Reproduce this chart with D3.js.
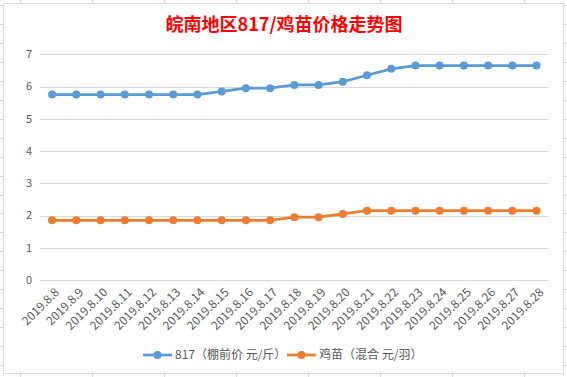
<!DOCTYPE html>
<html>
<head>
<meta charset="utf-8">
<script src="https://cdn.jsdelivr.net/npm/d3@7"></script>
<style>
  body { margin: 0; background: #fff; }
  svg { display: block; }
</style>
</head>
<body>
<div id="chart"></div>
<script>
// data
const dates = ["2019.8.8", "2019.8.9", "2019.8.10", "2019.8.11", "2019.8.12", "2019.8.13", "2019.8.14",
    "2019.8.15", "2019.8.16", "2019.8.17", "2019.8.18", "2019.8.19", "2019.8.20", "2019.8.21",
    "2019.8.22", "2019.8.23", "2019.8.24", "2019.8.25", "2019.8.26", "2019.8.27", "2019.8.28"];
const price817 = [5.75, 5.75, 5.75, 5.75, 5.75, 5.75, 5.75, 5.85, 5.95, 5.95, 6.05, 6.05, 6.15, 6.35,
    6.55, 6.65, 6.65, 6.65, 6.65, 6.65, 6.65];
const chickPrice = [1.85, 1.85, 1.85, 1.85, 1.85, 1.85, 1.85, 1.85, 1.85, 1.85, 1.95, 1.95, 2.05, 2.15,
    2.15, 2.15, 2.15, 2.15, 2.15, 2.15, 2.15];
const yTicks = [0, 1, 2, 3, 4, 5, 6, 7];
const seriesNames = ["817（棚前价 元/斤）", "鸡苗（混合 元/羽）"];
const colors = ["#5b9bd5", "#ed7d31"];

const width = 567, height = 377;
const font = "'Noto Sans CJK SC', 'Noto Sans', sans-serif";

const svg = d3.select("#chart").append("svg")
    .attr("width", width)
    .attr("height", height);

// spreadsheet grid behind the chart
const sheet = svg.append("g").attr("stroke", "#d4d4d4").attr("stroke-width", 1);
d3.range(0, 8).forEach(k => {
    const x = Math.round(20 + 71.95 * k) + 0.5;
    sheet.append("line").attr("x1", x).attr("x2", x).attr("y1", 0).attr("y2", height);
});
d3.range(0, 20).forEach(k => {
    const y = Math.round(5 + 18.95 * k) + 0.5;
    sheet.append("line").attr("x1", 0).attr("x2", width).attr("y1", y).attr("y2", y);
});

// chart box
svg.append("rect")
    .attr("x", 3.5).attr("y", 3.5)
    .attr("width", 560).attr("height", 370)
    .attr("fill", "#fff")
    .attr("stroke", "#d9d9d9");

svg.append("text")
    .attr("x", 284).attr("y", 31)
    .attr("text-anchor", "middle")
    .attr("fill", "#ff0000")
    .attr("font-family", font)
    .attr("font-weight", "bold")
    .attr("font-size", 18)
    .text("皖南地区817/鸡苗价格走势图");

const xScale = d3.scalePoint().domain(dates).range([40, 548.7]).padding(0.5);
const yScale = d3.scaleLinear().domain([0, 7]).range([280, 54.3]);

// gridlines
svg.append("g").selectAll("line")
    .data(yTicks)
    .join("line")
    .attr("x1", 40).attr("x2", 548.7)
    .attr("y1", d => Math.round(yScale(d)) + 0.5)
    .attr("y2", d => Math.round(yScale(d)) + 0.5)
    .attr("stroke", "#d9d9d9");

// y labels
svg.append("g").selectAll("text")
    .data(yTicks)
    .join("text")
    .attr("x", 32)
    .attr("y", d => yScale(d))
    .attr("dy", "0.35em")
    .attr("text-anchor", "end")
    .attr("fill", "#595959")
    .attr("font-family", font)
    .attr("font-size", 11)
    .text(d => d);

// x labels, rotated
svg.append("g").selectAll("text")
    .data(dates)
    .join("text")
    .attr("transform", d => "translate(" + (xScale(d) + 5) + ",290) rotate(-45)")
    .attr("dy", "0.35em")
    .attr("text-anchor", "end")
    .attr("fill", "#595959")
    .attr("font-family", font)
    .attr("font-size", 12)
    .text(d => d);

const line = d3.line()
    .x((d, i) => xScale(dates[i]))
    .y(d => yScale(d));

[price817, chickPrice].forEach((vals, s) => {
    const g = svg.append("g");
    g.append("path")
        .attr("fill", "none")
        .attr("stroke", colors[s])
        .attr("stroke-width", 2.75)
        .attr("stroke-linejoin", "round")
        .attr("d", line(vals));
    g.selectAll("circle")
        .data(vals)
        .join("circle")
        .attr("cx", (d, i) => xScale(dates[i]))
        .attr("cy", d => yScale(d))
        .attr("r", 4)
        .attr("fill", colors[s]);
});

// legend
const legendX = [143, 287];
seriesNames.forEach((name, s) => {
    const g = svg.append("g").attr("transform", "translate(" + legendX[s] + ",355)");
    g.append("line")
        .attr("x1", 0).attr("x2", 29)
        .attr("stroke", colors[s]).attr("stroke-width", 2.75);
    g.append("circle").attr("cx", 14.5).attr("r", 4).attr("fill", colors[s]);
    g.append("text")
        .attr("x", 32)
        .attr("dy", "0.35em")
        .attr("fill", "#595959")
        .attr("font-family", font)
        .attr("font-size", 12)
        .text(name);
});
</script>
</body>
</html>
